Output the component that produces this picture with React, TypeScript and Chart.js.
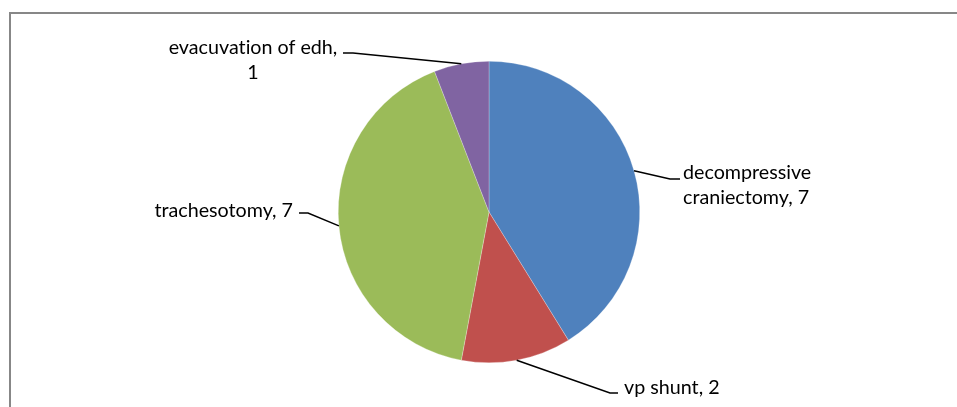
import React, { useEffect, useRef } from "react";
import { Chart, registerables } from "chart.js";

Chart.register(...registerables);

const categories = ["decompressive craniectomy", "vp shunt", "trachesotomy", "evacuvation of edh"];
const values = [7, 2, 7, 1];
const colors = ["#4F81BD", "#C0504D", "#9BBB59", "#8064A2"];
// where each label text wraps (word index after which to break), -1 = no wrap
const wrapAfterWord = [0, -1, -1, 2];

// label layout: elbow point, end of leader, text anchor, alignment
const labelLayout = [
  { elbow: [670, 179], end: [680, 179], tx: 683, ty: 179, align: "left" },
  { elbow: [610, 393], end: [618, 393], tx: 624, ty: 394, align: "left" },
  { elbow: [308, 213], end: [299, 213], tx: 293, ty: 217, align: "right" },
  { elbow: [353, 53], end: [343, 53], tx: 253, ty: 54, align: "center" },
];

const FONT = "19.7px Lato, 'Open Sans', sans-serif";
const LINE_H = 25;

function labelLines(i: number): string[] {
  const full = `${categories[i]}, ${values[i]}`;
  const words = full.split(" ");
  const w = wrapAfterWord[i];
  if (w < 0) return [full];
  return [words.slice(0, w + 1).join(" "), words.slice(w + 1).join(" ")];
}

const frameAndLabels = {
  id: "frameAndLabels",
  beforeDraw(chart: any) {
    const ctx = chart.ctx;
    ctx.save();
    ctx.fillStyle = "#fff";
    ctx.fillRect(0, 0, chart.width, chart.height);
    ctx.strokeStyle = "#878787";
    ctx.lineWidth = 2;
    ctx.strokeRect(10, 13, 2000, 2000);
    ctx.restore();
  },
  afterDatasetsDraw(chart: any) {
    const ctx = chart.ctx;
    const meta = chart.getDatasetMeta(0);
    ctx.save();
    meta.data.forEach((arc: any, i: number) => {
      const { x, y, startAngle, endAngle, outerRadius } = arc.getProps(
        ["x", "y", "startAngle", "endAngle", "outerRadius"],
        true
      );
      const mid = (startAngle + endAngle) / 2;
      const ex = x + Math.cos(mid) * outerRadius;
      const ey = y + Math.sin(mid) * outerRadius;
      const L = labelLayout[i];
      ctx.beginPath();
      ctx.strokeStyle = "#000";
      ctx.lineWidth = 1.5;
      ctx.moveTo(ex, ey);
      ctx.lineTo(L.elbow[0], L.elbow[1]);
      ctx.lineTo(L.end[0], L.end[1]);
      ctx.stroke();
      ctx.font = FONT;
      try {
        (ctx as any).textRendering = "optimizeSpeed";
      } catch (e) {}
      ctx.fillStyle = "#000";
      ctx.textAlign = L.align;
      ctx.textBaseline = "alphabetic";
      labelLines(i).forEach((line, k) => {
        ctx.fillText(line, L.tx, L.ty + k * LINE_H);
      });
    });
    ctx.restore();
  },
};

export default function App() {
  const ref = useRef<HTMLCanvasElement>(null);
  useEffect(() => {
    if (!ref.current) return;
    const chart = new Chart(ref.current, {
      type: "pie",
      data: {
        labels: categories,
        datasets: [
          {
            data: values,
            backgroundColor: colors,
            borderColor: "rgba(255,255,255,0.5)",
            borderWidth: 0.5,
          },
        ],
      },
      options: {
        responsive: false,
        animation: false,
        layout: { padding: { left: 338, right: 317, top: 61, bottom: 44 } },
        plugins: {
          legend: { display: false },
          tooltip: { enabled: false },
        },
      },
      plugins: [frameAndLabels],
    });
    return () => chart.destroy();
  }, []);
  return (
    <div style={{ position: "fixed", left: 0, top: 0, width: 957, height: 407, background: "#fff" }}>
      <canvas ref={ref} width={957} height={407} style={{ display: "block", width: 957, height: 407 }} />
    </div>
  );
}
